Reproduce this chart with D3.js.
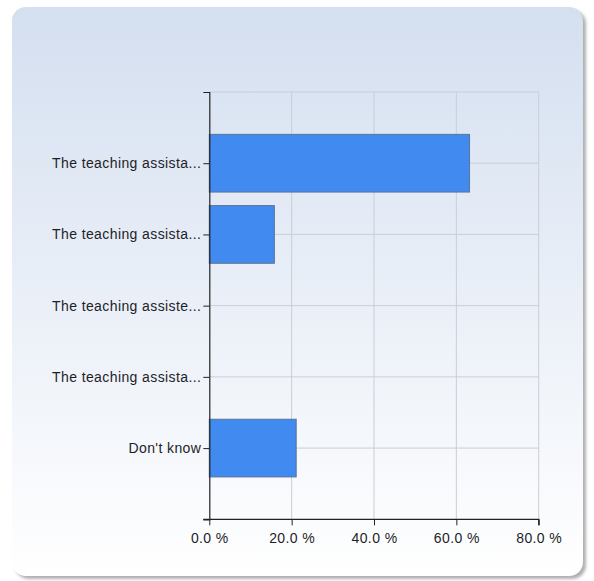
<!DOCTYPE html>
<html>
<head>
<meta charset="utf-8">
<script src="https://cdn.jsdelivr.net/npm/d3@7"></script>
<style>
  html, body { margin: 0; padding: 0; background: #ffffff; }
  svg { display: block; }
</style>
</head>
<body>
<script>
// Answer options and their share of responses (%)
const categories = [
  "The teaching assista...",
  "The teaching assista...",
  "The teaching assiste...",
  "The teaching assista...",
  "Don't know"
];
const percents = [63.2, 15.8, 0, 0, 21.1];
const xTicks = [0, 20, 40, 60, 80];

const W = 594, H = 581;
const svg = d3.select("body").append("svg")
  .attr("width", W).attr("height", H);

const defs = svg.append("defs");
const grad = defs.append("linearGradient")
  .attr("id", "panelBg").attr("x1", 0).attr("y1", 0).attr("x2", 0).attr("y2", 1);
grad.append("stop").attr("offset", "0%").attr("stop-color", "#d4dff0");
grad.append("stop").attr("offset", "100%").attr("stop-color", "#ffffff");

const shadow = defs.append("filter").attr("id", "shadow")
  .attr("x", "-5%").attr("y", "-5%").attr("width", "115%").attr("height", "115%");
shadow.append("feGaussianBlur").attr("stdDeviation", 1.8);

// Panel with soft drop shadow
svg.append("rect")
  .attr("x", 15).attr("y", 10).attr("width", 571).attr("height", 569)
  .attr("rx", 14).attr("fill", "#b0b0b0").attr("filter", "url(#shadow)");
svg.append("rect")
  .attr("x", 12).attr("y", 7).attr("width", 571).attr("height", 569)
  .attr("rx", 14).attr("fill", "url(#panelBg)");

const plotL = 209.3, plotR = 538.7, plotT = 92, plotB = 519.3;

const x = d3.scaleLinear().domain([0, 80]).range([plotL, plotR]);
const y = d3.scalePoint()
  .domain(d3.range(categories.length))
  .range([plotT, plotB]).padding(1);
const barH = y.step() * 0.81;

const g = svg.append("g");

// Grid: vertical lines at ticks, horizontal lines at category positions
g.append("g").selectAll("line")
  .data(xTicks.slice(1))
  .join("line")
  .attr("x1", d => x(d)).attr("x2", d => x(d))
  .attr("y1", plotT).attr("y2", plotB)
  .attr("stroke", "#c9ced6").attr("stroke-width", 1);
g.append("g").selectAll("line")
  .data(d3.range(categories.length))
  .join("line")
  .attr("x1", plotL).attr("x2", plotR)
  .attr("y1", d => y(d)).attr("y2", d => y(d))
  .attr("stroke", "#c9ced6").attr("stroke-width", 1);
g.append("line")
  .attr("x1", plotL).attr("x2", plotR).attr("y1", plotT).attr("y2", plotT)
  .attr("stroke", "#c9ced6");

// Bars
g.append("g").selectAll("rect")
  .data(percents.map((v, i) => ({ v, i })).filter(d => d.v > 0))
  .join("rect")
  .attr("x", x(0))
  .attr("y", d => y(d.i) - barH / 2)
  .attr("width", d => x(d.v) - x(0))
  .attr("height", barH)
  .attr("fill", "#418af0")
  .attr("stroke", "#5b7498")
  .attr("stroke-width", 1);

// Axes
const fontFam = "'Liberation Sans', Arial, sans-serif";
const xAxis = d3.axisBottom(x).tickValues(xTicks)
  .tickFormat(d => d3.format(".1f")(d) + " %")
  .tickSize(6).tickSizeOuter(6).tickPadding(7.5);
const xg = svg.append("g").attr("transform", `translate(0,${plotB})`).call(xAxis);

const yAxis = d3.axisLeft(y).tickFormat(i => categories[i])
  .tickSize(6).tickSizeOuter(6).tickPadding(2);
const yg = svg.append("g").attr("transform", `translate(${plotL},0)`).call(yAxis);

// Extend the x axis line left to meet the y axis outer tick
xg.select(".domain").attr("d", `M${plotL - 6},0H${plotR}V6`);

[xg, yg].forEach(a => {
  a.selectAll(".domain").attr("stroke", "#222").attr("stroke-width", 1.2);
  a.selectAll(".tick line").attr("stroke", "#222");
  a.selectAll("text")
    .attr("fill", "#1e1e28")
    .style("font-family", fontFam)
    .style("font-size", "14px")
    .style("letter-spacing", "0.4px");
});
</script>
</body>
</html>
